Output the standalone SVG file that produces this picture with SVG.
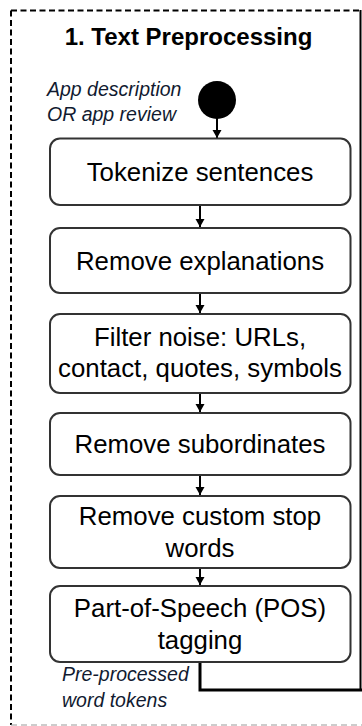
<svg xmlns="http://www.w3.org/2000/svg" width="362" height="726" viewBox="0 0 362 726">
<defs>
<marker id="ah" markerWidth="10" markerHeight="10" refX="8" refY="5" orient="auto" markerUnits="userSpaceOnUse">
<path d="M0,0.5 L8,5 L0,9.5 Z" fill="#000"/>
</marker>
<style>
.box{fill:#fff;stroke:#333;stroke-width:2}
.t{font-family:"Liberation Sans",Arial,sans-serif;font-size:25.8px;fill:#000;text-anchor:middle}
.it{font-family:"Liberation Sans",Arial,sans-serif;font-size:19.5px;font-style:italic;fill:#111a30}
.arr{stroke:#000;stroke-width:2;fill:none;marker-end:url(#ah)}
</style>
</defs>
<g id="frame">
<path d="M11,10.5 H362" stroke="#000" stroke-width="2" stroke-dasharray="6,3.5" fill="none"/>
<path d="M11,10.5 V725" stroke="#000" stroke-width="2" stroke-dasharray="6,3.5" fill="none"/>
<path d="M11,725 H362" stroke="#9a9a9a" stroke-width="1.2" stroke-dasharray="6,4" fill="none"/>
<path d="M360.5,10 V690" stroke="#000" stroke-width="2" fill="none"/>
<text x="188.5" y="45" font-family="Liberation Sans,Arial,sans-serif" font-size="24" font-weight="bold" text-anchor="middle" fill="#000">1. Text Preprocessing</text>
</g>
<g id="start">
<circle cx="217" cy="100" r="19" fill="#000"/>
<text class="it" x="47" y="96">App description</text>
<text class="it" x="47" y="121">OR app review</text>
</g>
<g id="connectors">
<path class="arr" d="M217,118 V138"/>
<path class="arr" d="M200,205 V227"/>
<path class="arr" d="M200,293 V313"/>
<path class="arr" d="M200,378 V412"/>
<path class="arr" d="M200,475 V495"/>
<path class="arr" d="M200,563 V585"/>
<path d="M200,662 V690 H362" stroke="#000" stroke-width="3" fill="none"/>
</g>
<g id="n1">
<rect class="box" x="50" y="138.5" width="300.5" height="66.5" rx="10"/>
<text class="t" x="200" y="181">Tokenize sentences</text>
</g>
<g id="n2">
<rect class="box" x="50" y="228" width="300.5" height="65" rx="10"/>
<text class="t" x="200" y="270">Remove explanations</text>
</g>
<g id="n3">
<rect class="box" x="50" y="314" width="300.5" height="79" rx="10"/>
<text class="t" x="200" y="346">Filter noise: URLs,</text>
<text class="t" x="200" y="377">contact, quotes, symbols</text>
</g>
<g id="n4">
<rect class="box" x="50" y="413" width="300.5" height="62" rx="10"/>
<text class="t" x="200" y="453">Remove subordinates</text>
</g>
<g id="n5">
<rect class="box" x="50" y="496" width="300.5" height="72" rx="10"/>
<text class="t" x="200" y="525">Remove custom stop</text>
<text class="t" x="200" y="557">words</text>
</g>
<g id="n6">
<rect class="box" x="50" y="586" width="300.5" height="76" rx="10"/>
<text class="t" x="200" y="617">Part-of-Speech (POS)</text>
<text class="t" x="200" y="649">tagging</text>
</g>
<g id="end">
<text class="it" x="62" y="681">Pre-processed</text>
<text class="it" x="62" y="707">word tokens</text>
</g>
</svg>
